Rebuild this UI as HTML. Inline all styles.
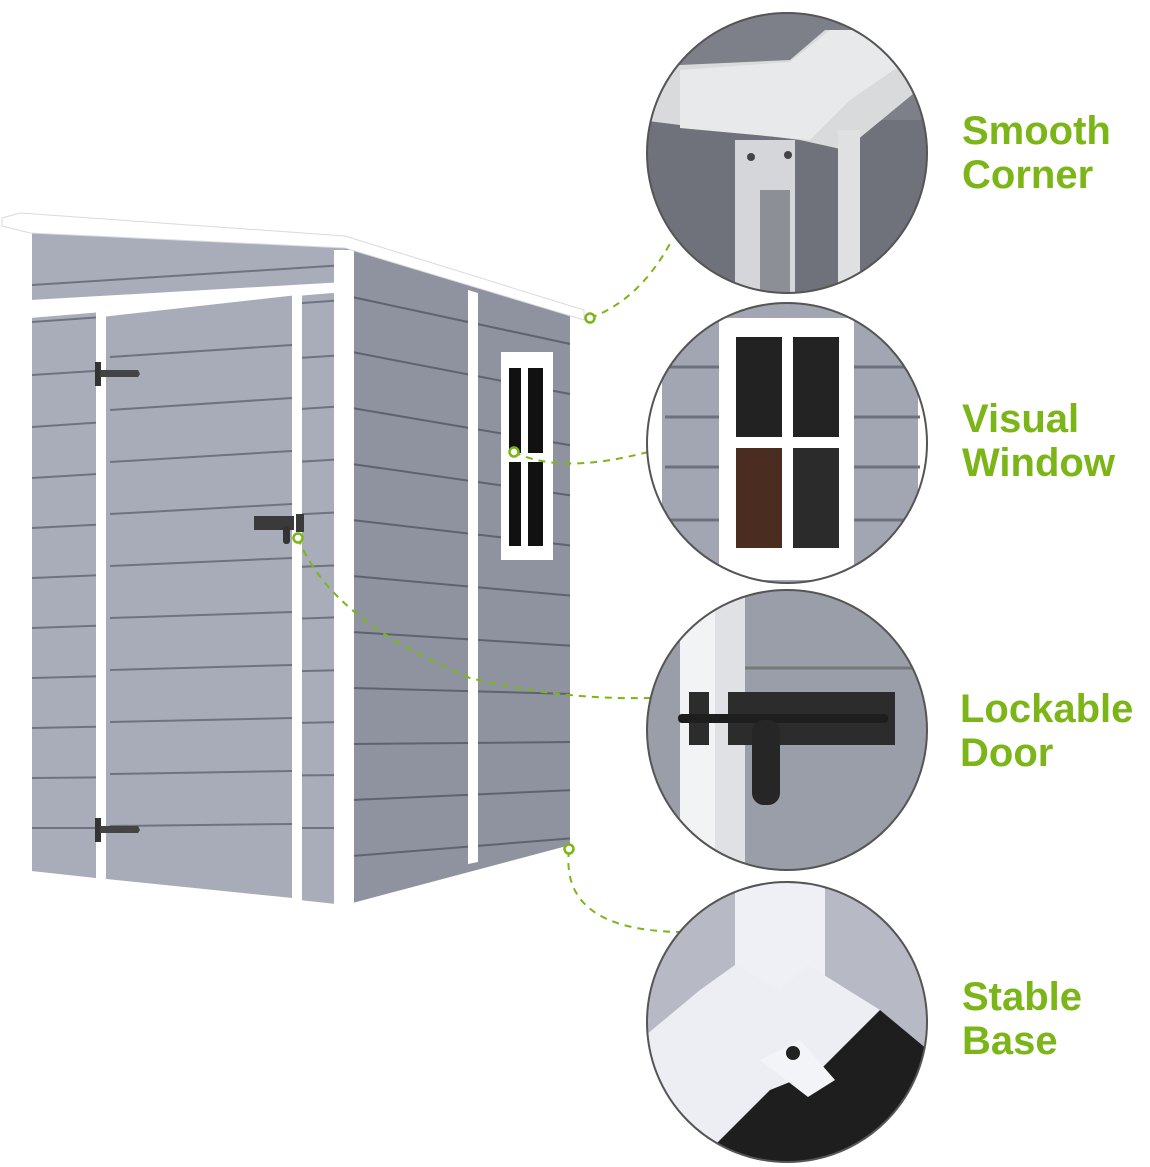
<!DOCTYPE html>
<html><head><meta charset="utf-8"><style>
body{margin:0;background:#fff;}
svg{display:block;}
text{font-family:"Liberation Sans",sans-serif;font-weight:bold;fill:#7cb518;font-size:40px;}
</style></head><body>
<svg width="1150" height="1167" viewBox="0 0 1150 1167" xmlns="http://www.w3.org/2000/svg">
<defs>
<clipPath id="c1"><circle cx="787" cy="153" r="140"/></clipPath>
<clipPath id="c2"><circle cx="787" cy="443" r="140"/></clipPath>
<clipPath id="c3"><circle cx="787" cy="730" r="140"/></clipPath>
<clipPath id="c4"><circle cx="787" cy="1022" r="140"/></clipPath>
</defs>
<polygon points="30,232 345,245 345,912 30,878" fill="#a9adba"/>
<polygon points="345,245 578,318 578,850 345,912" fill="#8f939f"/>
<g stroke="#6f7380" stroke-width="2">
<line x1="32" y1="285" x2="345" y2="265"/>
<line x1="32" y1="322" x2="345" y2="300"/>
<line x1="32" y1="375" x2="345" y2="355"/>
<line x1="32" y1="427" x2="345" y2="406"/>
<line x1="32" y1="478" x2="345" y2="459"/>
<line x1="32" y1="528" x2="345" y2="512"/>
<line x1="32" y1="578" x2="345" y2="565"/>
<line x1="32" y1="628" x2="345" y2="617"/>
<line x1="32" y1="678" x2="345" y2="670"/>
<line x1="32" y1="728" x2="345" y2="722"/>
<line x1="32" y1="778" x2="345" y2="775"/>
<line x1="32" y1="828" x2="345" y2="828"/>
</g>
<g stroke="#5f636f" stroke-width="2">
<line x1="352" y1="297" x2="575" y2="345"/>
<line x1="352" y1="352" x2="575" y2="395"/>
<line x1="352" y1="408" x2="575" y2="446"/>
<line x1="352" y1="464" x2="575" y2="496"/>
<line x1="352" y1="520" x2="575" y2="546"/>
<line x1="352" y1="576" x2="575" y2="596"/>
<line x1="352" y1="632" x2="575" y2="646"/>
<line x1="352" y1="688" x2="575" y2="694"/>
<line x1="352" y1="744" x2="575" y2="742"/>
<line x1="352" y1="800" x2="575" y2="790"/>
<line x1="352" y1="856" x2="575" y2="838"/>
</g>
<polygon points="30,300 345,282 345,292 30,318" fill="#fff"/>
<polygon points="98,310 300,288 300,902 98,880" fill="#a8acb9"/>
<g stroke="#6f7380" stroke-width="2">
<line x1="110" y1="357" x2="292" y2="345"/>
<line x1="110" y1="410" x2="292" y2="398"/>
<line x1="110" y1="462" x2="292" y2="451"/>
<line x1="110" y1="514" x2="292" y2="504"/>
<line x1="110" y1="566" x2="292" y2="558"/>
<line x1="110" y1="618" x2="292" y2="612"/>
<line x1="110" y1="670" x2="292" y2="665"/>
<line x1="110" y1="722" x2="292" y2="718"/>
<line x1="110" y1="774" x2="292" y2="771"/>
<line x1="110" y1="826" x2="292" y2="824"/>
</g>
<g fill="none" stroke="#fff" stroke-width="10">
<polyline points="101,890 101,312 297,290 297,905"/>
</g>
<line x1="101" y1="882" x2="297" y2="902" stroke="#fff" stroke-width="7"/>
<rect x="22" y="228" width="10" height="652" fill="#fff"/>
<polygon points="334,250 354,250 354,914 334,914" fill="#fff"/>
<polygon points="468,290 478,293 478,862 468,864" fill="#fff"/>
<polygon points="570,316 578,318 578,850 570,852" fill="#fff"/>
<polygon points="22,870 345,905 345,916 22,880" fill="#fff"/>
<polygon points="345,905 578,843 578,852 345,916" fill="#fff"/>
<polygon points="2,218 20,213 345,236 584,310 584,320 345,248 30,233 2,226" fill="#fff" stroke="#d8dae0" stroke-width="1"/>
<rect x="95" y="362" width="6" height="24" fill="#333"/>
<polygon points="100,370 138,370 140,374 138,377 100,377" fill="#444"/>
<rect x="95" y="818" width="6" height="24" fill="#333"/>
<polygon points="100,826 138,826 140,830 138,833 100,833" fill="#444"/>
<rect x="254" y="516" width="40" height="14" fill="#3a3a3a"/>
<rect x="296" y="514" width="8" height="18" fill="#3a3a3a"/>
<rect x="283" y="526" width="7" height="18" rx="3" fill="#333"/>
<rect x="501" y="352" width="52" height="208" fill="#fff"/>
<rect x="509" y="368" width="12" height="85" fill="#111"/>
<rect x="528" y="368" width="15" height="85" fill="#111"/>
<rect x="509" y="462" width="12" height="84" fill="#111"/>
<rect x="528" y="462" width="15" height="84" fill="#111"/>

<g fill="none" stroke="#7cb518" stroke-width="2" stroke-dasharray="7,6">
<path d="M590,318 Q640,300 672,240"/>
<path d="M514,452 Q560,475 648,452"/>
<path d="M298,538 Q330,620 470,678 Q560,700 650,698"/>
<path d="M569,850 Q560,930 680,932"/>
</g>
<g fill="#fff" stroke="#7cb518" stroke-width="2.5">
<circle cx="590" cy="318" r="4.5"/>
<circle cx="514" cy="452" r="4.5"/>
<circle cx="298" cy="538" r="4.5"/>
<circle cx="569" cy="849" r="4.5"/>
</g>

<g clip-path="url(#c1)">
<rect x="640" y="10" width="300" height="290" fill="#7d8088"/>
<rect x="640" y="120" width="300" height="180" fill="#6f727a"/>
<polygon points="640,80 680,65 790,60 825,30 930,30 930,80 845,150 800,140 640,120" fill="#d9dadc"/>
<polygon points="680,70 790,62 830,30 930,30 930,45 850,100 810,140 680,128" fill="#e8e9eb"/>
<rect x="735" y="140" width="60" height="160" fill="#d5d6d9"/>
<rect x="838" y="130" width="22" height="170" fill="#dfe0e2"/>
<rect x="760" y="190" width="30" height="110" fill="#8c8f96"/>
<circle cx="751" cy="157" r="4" fill="#444"/><circle cx="788" cy="155" r="4" fill="#444"/>
</g>
<circle cx="787" cy="153" r="140" fill="none" stroke="#555" stroke-width="2"/>

<g clip-path="url(#c2)">
<rect x="640" y="300" width="300" height="290" fill="#a2a6b2"/>
<rect x="640" y="300" width="22" height="290" fill="#fff"/>
<rect x="918" y="300" width="22" height="290" fill="#fff"/>
<g stroke="#6d717d" stroke-width="3"><line x1="665" y1="367" x2="920" y2="367"/><line x1="665" y1="417" x2="920" y2="417"/><line x1="665" y1="467" x2="920" y2="467"/><line x1="665" y1="520" x2="920" y2="520"/></g>
<rect x="719" y="318" width="135" height="262" fill="#fff"/>
<rect x="736" y="337" width="46" height="100" fill="#222"/>
<rect x="793" y="337" width="46" height="100" fill="#232323"/>
<rect x="736" y="448" width="46" height="100" fill="#4a2c20"/>
<rect x="793" y="448" width="46" height="100" fill="#2b2b2b"/>
</g>
<circle cx="787" cy="443" r="140" fill="none" stroke="#555" stroke-width="2"/>

<g clip-path="url(#c3)">
<rect x="640" y="585" width="300" height="290" fill="#9a9ea8"/>
<rect x="680" y="585" width="35" height="290" fill="#f2f3f5"/>
<rect x="715" y="585" width="30" height="290" fill="#e0e1e4"/>
<line x1="745" y1="668" x2="930" y2="668" stroke="#777" stroke-width="3"/>
<rect x="689" y="692" width="20" height="53" fill="#2c2c2c"/>
<rect x="728" y="692" width="167" height="53" fill="#2c2c2c"/>
<rect x="678" y="714" width="210" height="9" rx="4" fill="#1e1e1e"/>
<rect x="752" y="720" width="28" height="85" rx="12" fill="#262626"/>
</g>
<circle cx="787" cy="730" r="140" fill="none" stroke="#555" stroke-width="2"/>

<g clip-path="url(#c4)">
<rect x="640" y="880" width="300" height="290" fill="#b7bac4"/>
<rect x="735" y="880" width="90" height="110" fill="#eef0f6"/>
<polygon points="640,1040 700,990 735,965 780,990 808,965 880,1010 940,1060 940,1170 640,1170" fill="#eceef4"/>
<polygon points="690,1170 770,1090 820,1070 880,1010 940,1060 940,1170" fill="#1e1e1e"/>
<polygon points="760,1060 800,1040 835,1080 808,1097" fill="#f3f4f8"/>
<circle cx="793" cy="1053" r="7" fill="#222"/>
</g>
<circle cx="787" cy="1022" r="140" fill="none" stroke="#555" stroke-width="2"/>

<text x="962" y="144">Smooth</text>
<text x="962" y="188">Corner</text>
<text x="962" y="432">Visual</text>
<text x="962" y="476">Window</text>
<text x="960" y="722">Lockable</text>
<text x="960" y="766">Door</text>
<text x="962" y="1010">Stable</text>
<text x="962" y="1054">Base</text>
</svg>
</body></html>
